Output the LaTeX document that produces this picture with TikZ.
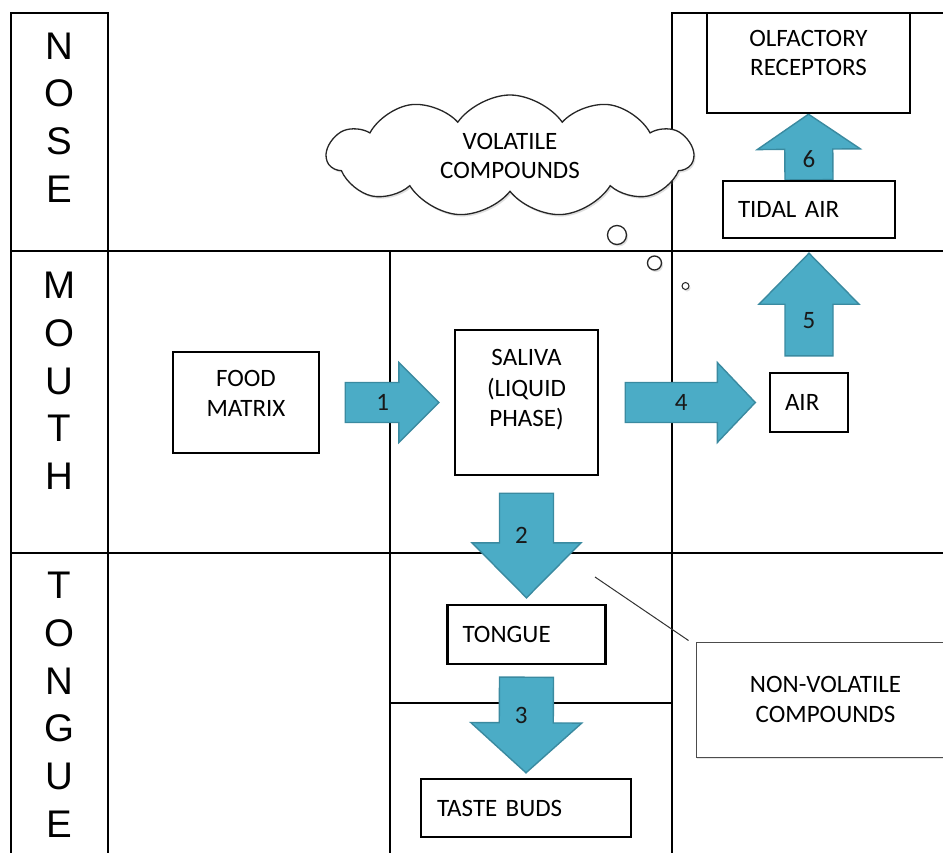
\documentclass[tikz,border=0pt]{standalone}
\usepackage{fontspec}
\setmainfont{Carlito}
\newfontfamily\regionfont{Liberation Sans}
\usetikzlibrary{calc,shapes.symbols,shadows,backgrounds}
\pgfdeclarelayer{framelayer}
\pgfdeclarelayer{arrowlayer}
\pgfsetlayers{background,framelayer,arrowlayer,main}
\definecolor{arrowfill}{HTML}{4BACC6}
\definecolor{arrowedge}{RGB}{58,138,160}
\newcommand\topText[3]{\parbox[c][#1][t]{#2}{\centering #3}}
\newcommand\blockArrow[9]{%
  \coordinate (#7-hb) at ($(#2)!#5!(#1)$);
  \draw[blockarrow] ($(#1)!#3!90:(#2)$) -- ($(#7-hb)!#3!90:(#2)$) -- ($(#7-hb)!#4!90:(#2)$) -- (#2)
     -- ($(#7-hb)!#4!-90:(#2)$) -- ($(#7-hb)!#3!-90:(#2)$) -- ($(#1)!#3!-90:(#2)$) -- cycle;
  \node[arrowlabel, #9] (#7) at ($(#1)!#6!(#2)$) {#8};
}
\tikzset{
  frame/.style={line width=2.6pt, line join=miter},
  box/.style={draw, line width=2.4pt, rectangle, inner sep=0pt, font=\fontsize{25}{29.5}\selectfont},
  leftbox/.style={box, align=left, inner xsep=15pt},
  blockarrow/.style={fill=arrowfill, draw=arrowedge, line width=1.4pt, line join=miter},
  arrowlabel/.style={font=\fontsize{25}{29}\selectfont, text=black!90, inner sep=0pt},
  region/.style={font=\regionfont\fontsize{38.5}{47.7}\selectfont, align=center, inner sep=0pt},
  thinshape/.style={draw=black!85, line width=1.3pt, fill=white,
    drop shadow={opacity=0.25, shadow xshift=1.5pt, shadow yshift=-2pt}},
}
\begin{document}
\begin{tikzpicture}[x=1pt,y=-1pt]
\useasboundingbox (0,0) rectangle (943,852);
\begin{pgfonlayer}{background}
\fill[white] (0,0) rectangle (943,852);
\end{pgfonlayer}

% frame
\begin{pgfonlayer}{framelayer}
\draw[frame] (108,860) -- (108,13) -- (11,13) -- (11,860);
\draw[frame] (950,13) -- (672,13) -- (672,860);
\draw[frame] (11,251) -- (950,251);
\draw[frame] (11,553) -- (950,553);
\draw[frame] (390,251) -- (390,860);
\draw[frame] (390,703) -- (672,703);
\end{pgfonlayer}

% region labels
\node[region] (nose) at (59.5,117.5) {N\\O\\S\\E};
\node[region] (mouth) at (59.5,380.8) {M\\O\\U\\T\\H};
\node[region] (tonguelbl) at (59.5,704.7) {T\\O\\N\\G\\U\\E};

% boxes
\node[box, minimum width=203pt, minimum height=100pt] (olf) at (808.5,63)
  {\topText{65.6pt}{200pt}{OLFACTORY\\RECEPTORS}};
\node[leftbox, text width=142pt, minimum height=57pt] (tidal) at (809,209.5) {TIDAL AIR};
\node[box, minimum width=146pt, minimum height=101pt] (food) at (246,402.5)
  {\topText{64.4pt}{140pt}{FOOD\\MATRIX}};
\node[box, minimum width=143pt, minimum height=145pt, font=\fontsize{25}{30.5}\selectfont] (saliva) at (526.5,402.5)
  {\topText{106.4pt}{140pt}{SALIVA\\(LIQUID\\PHASE)}};
\node[leftbox, text width=48pt, minimum height=59pt] (air) at (809,402.5) {AIR};
\node[leftbox, text width=128pt, minimum height=59pt] (tongue) at (526.5,634.5) {TONGUE};
\node[leftbox, inner xsep=16pt, text width=178pt, minimum height=58pt] (taste) at (526,808) {TASTE BUDS};

% cloud and bubbles
\node[thinshape, cloud, cloud puffs=11, cloud puff arc=110, aspect=3,
      minimum width=366pt, minimum height=122pt, inner sep=0pt,
      font=\fontsize{25}{29.5}\selectfont, align=center] (cloud) at (510,156)
  {VOLATILE\\COMPOUNDS};
\node[thinshape, circle, minimum size=19pt, inner sep=0pt] (b1) at (617,235) {};
\node[thinshape, circle, minimum size=14pt, inner sep=0pt] (b2) at (654.5,263) {};
\node[thinshape, circle, minimum size=7pt, inner sep=0pt, line width=1pt] (b3) at (685.5,286) {};

% non-volatile callout
\node[draw=black!70, line width=1pt, fill=white, rectangle, minimum width=259pt, minimum height=115pt,
      font=\fontsize{25}{29.5}\selectfont, align=center,
      drop shadow={opacity=0.2, shadow xshift=1pt, shadow yshift=-1.5pt}] (nonvol) at (825.5,699.5)
  {NON-VOLATILE\\COMPOUNDS};
\coordinate (nvtip) at (595,577);
\draw[line width=1pt, black!80] ($(nonvol.north west)+(-7,-1)$) -- (nvtip);

% block arrows (over the frame lines, under the boxes)
\begin{pgfonlayer}{arrowlayer}
\coordinate (a1s) at ([xshift=25pt]food.east);
\coordinate (a1t) at ([xshift=-15pt]saliva.west);
\blockArrow{a1s}{a1t}{20pt}{40pt}{40pt}{0.4}{lab1}{1}{}
\coordinate (a4s) at ([xshift=26pt]saliva.east);
\coordinate (a4t) at ([xshift=-13.5pt]air.west);
\blockArrow{a4s}{a4t}{20pt}{40pt}{38pt}{0.43}{lab4}{4}{}
\coordinate (a5s) at ([yshift=16pt]air.north);
\coordinate (a5t) at ([yshift=-14pt]tidal.south);
\blockArrow{a5s}{a5t}{24pt}{50pt}{51pt}{0.343}{lab5}{5}{}
\coordinate (a6s) at (tidal.north);
\coordinate (a6t) at (olf.south);
\blockArrow{a6s}{a6t}{24pt}{51.5pt}{35pt}{0.31}{lab6}{6}{}
\coordinate (a2s) at ([yshift=-17pt]saliva.south);
\coordinate (a2t) at ([yshift=6pt]tongue.north);
\blockArrow{a2s}{a2t}{27pt}{54.5pt}{55pt}{0.4}{lab2}{2}{xshift=-5pt}
\coordinate (a3s) at ([yshift=-12pt]tongue.south);
\coordinate (a3t) at ([yshift=5pt]taste.north);
\blockArrow{a3s}{a3t}{27pt}{55.5pt}{50pt}{0.4}{lab3}{3}{xshift=-5pt}
\end{pgfonlayer}
\end{tikzpicture}
\end{document}
